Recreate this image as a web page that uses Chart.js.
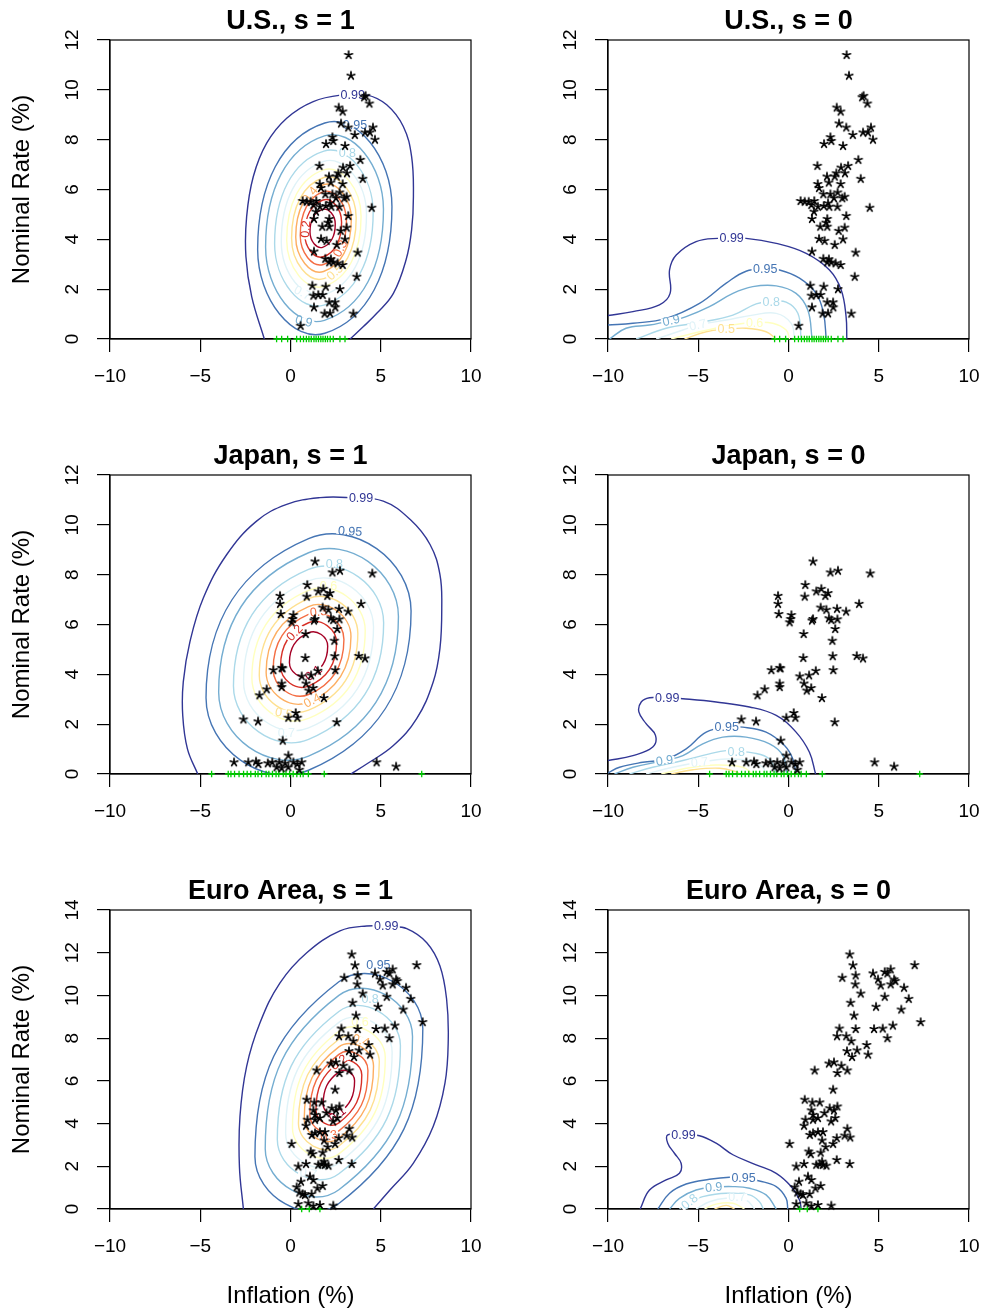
<!DOCTYPE html>
<html>
<head>
<meta charset="utf-8">
<script src="https://cdn.jsdelivr.net/npm/chart.js@4.4.1/dist/chart.umd.min.js"></script>
<style>
  html, body { margin: 0; padding: 0; background: #fff; }
  body { width: 982px; height: 1314px; position: relative; overflow: hidden; }
  canvas { position: absolute; }
</style>
</head>
<body>
<canvas id="p1"></canvas><canvas id="p2"></canvas>
<canvas id="p3"></canvas><canvas id="p4"></canvas>
<canvas id="p5"></canvas><canvas id="p6"></canvas>
<script>
// contour levels and their colours
const levelNames = ['0.99', '0.95', '0.9', '0.8', '0.7', '0.6', '0.5', '0.4', '0.3', '0.2', '0.1'];
const levelColors = ['#313695', '#4575B4', '#74ADD1', '#ABD9E9', '#E0F3F8', '#FFFFBF', '#FEE090', '#FDAE61', '#F46D43', '#D73027', '#A50026'];

const xTicks = [-10, -5, 0, 5, 10];

// ---- U.S. observations (inflation, nominal rate) ----
const usInfl = [3.22, 3.35, 4.16, 4.08, 4.37, 2.67, 2.89, 2.80, 3.20, 4.57, 4.13, 4.40, 3.56, 4.68, 2.32, 2.37, 1.97, 3.02, 3.87, 1.60,
  3.30, 2.91, 2.65, 3.13, 2.13, 2.56, 4.00, 1.62, 2.23, 2.89, 1.69, 1.93, 2.32, 2.72, 3.11, 2.98, 2.52, 0.67, 0.90, 1.12,
  1.43, 1.27, 1.63, 1.95, 2.26, 2.71, 2.19, 1.41, 1.30, 2.15, 3.20, 2.08, 1.76, 2.15, 3.11, 2.78, 1.69, 2.00, 3.02, 2.56,
  1.30, 3.72, 1.93, 2.15, 2.37, 2.61, 2.89, 2.24, 3.67, 1.21, 1.95, 2.74, 1.27, 1.54, 1.78, 2.15, 2.47, 2.48, 1.30, 1.89,
  2.19, 3.48, 0.56, 4.50];
const usRate = [11.4, 10.57, 9.76, 9.70, 9.45, 9.29, 9.13, 8.65, 8.49, 8.49, 8.29, 8.29, 8.19, 8.00, 8.10, 7.95, 7.83, 7.75, 7.19, 6.95,
  6.95, 6.88, 6.65, 6.65, 6.52, 6.52, 6.43, 6.22, 6.28, 6.22, 6.06, 5.81, 5.81, 5.88, 5.71, 5.65, 5.65, 5.54, 5.51, 5.51,
  5.54, 5.38, 5.31, 5.34, 5.31, 5.31, 5.45, 5.11, 4.82, 4.82, 4.94, 4.67, 4.51, 4.51, 4.47, 4.34, 4.02, 3.94, 4.00, 3.78,
  3.51, 3.47, 3.22, 3.08, 3.08, 3.04, 2.97, 3.20, 2.50, 2.14, 2.10, 2.00, 1.74, 1.77, 1.77, 1.47, 1.47, 1.27, 1.27, 1.02,
  1.03, 1.02, 0.53, 5.27];
const usZero = [-0.77, -0.49, -0.16, 0.34, 0.55, 0.72, 0.88, 1.02, 1.15, 1.3, 1.42, 1.55, 1.68, 1.8, 1.93, 2.05, 2.2, 2.37, 2.74, 3.02];

// ---- Japan observations ----
const jpInfl = [1.36, 2.32, 2.74, 4.53, 0.93, 1.82, 1.54, 2.19, 2.04, -0.58, -0.58, 0.90, 3.91, -0.54, 1.78, 2.10, 2.69, 3.19, 0.16, 0.12,
  0.06, 1.36, 1.30, 2.24, 2.37, 2.71, 2.59, 0.84, 2.43, 0.82, 2.45, 3.78, 4.13, -0.95, -0.49, -0.44, 0.62, 1.14, 1.51, 2.48,
  -0.49, -0.49, 0.86, 1.01, 1.26, 1.85, -1.32, -1.72, 0.29, -0.12, 0.38, -2.61, -1.80, 2.56, -0.43, -0.12, -3.13, -2.34, -1.91, -1.78,
  -1.26, -1.01, -0.62, -0.30, 0.16, 0.38, 0.62, -0.77, -0.49, -0.12, 0.49, 4.77, 5.85];
const jpRate = [8.53, 8.09, 8.16, 8.05, 7.59, 7.43, 7.33, 7.26, 7.15, 7.15, 6.83, 7.12, 6.83, 6.42, 6.68, 6.59, 6.63, 6.52, 6.38, 6.22,
  6.09, 6.22, 6.16, 6.25, 6.18, 6.21, 5.82, 5.62, 5.35, 4.66, 4.73, 4.74, 4.64, 4.17, 4.26, 4.24, 3.92, 3.96, 4.14, 4.17,
  3.63, 3.49, 3.63, 3.35, 3.45, 3.05, 3.40, 3.16, 2.45, 2.26, 2.26, 2.19, 2.11, 2.08, 1.34, 0.74, 0.47, 0.47, 0.50, 0.40,
  0.43, 0.47, 0.47, 0.43, 0.47, 0.40, 0.47, 0.27, 0.23, 0.27, 0.17, 0.47, 0.30];
const jpZero = [-4.37, -3.45, -3.3, -3.1, -2.85, -2.6, -2.4, -2.2, -1.95, -1.8, -1.6, -1.35, -1.2, -1.0, -0.8, -0.65, -0.4, -0.25, -0.05,
  0.15, 0.35, 0.55, 0.7, 0.99, 1.87, 7.27];

// ---- Euro Area observations ----
const euInfl = [3.39, 3.57, 6.99, 3.72, 2.98, 4.68, 5.33, 5.66, 5.48, 4.96, 5.11, 5.66, 5.85, 5.92, 3.70, 6.40, 4.00, 5.33, 6.66, 3.44,
  4.85, 6.25, 3.63, 7.32, 2.82, 3.72, 4.74, 5.22, 5.78, 2.69, 3.20, 3.48, 5.48, 4.33, 3.24, 3.80, 4.41, 3.52, 2.24, 2.52,
  2.93, 3.26, 2.71, 1.45, 2.47, 0.90, 1.32, 1.73, 1.27, 1.36, 1.63, 1.36, 1.99, 2.28, 2.52, 2.71, 2.59, 2.36, 0.94, 0.86,
  1.18, 1.36, 1.63, 1.91, 3.26, 3.11, 3.42, 2.67, 2.47, 0.06, 1.86, 2.06, 1.12, 1.23, 1.78, 1.54, 1.73, 1.91, 2.10, 1.86,
  0.86, 0.43, 2.67, 3.39, 1.08, 1.27, 0.58, 1.78, 1.49, 0.34, 0.49, 0.80, 1.17, 0.67, 0.43, 0.99, 1.63, 2.37, 1.27];
const euRate = [11.92, 11.41, 11.42, 10.94, 10.83, 11.03, 11.10, 11.22, 11.03, 10.75, 10.47, 10.52, 10.75, 10.67, 10.52, 10.36, 10.09, 9.94, 9.84, 9.66,
  9.47, 9.34, 9.06, 8.75, 8.45, 8.43, 8.43, 8.45, 8.59, 8.09, 8.09, 7.86, 8.00, 7.68, 7.39, 7.43, 7.23, 7.12, 6.81, 6.87,
  6.71, 6.49, 6.37, 6.49, 5.59, 5.12, 4.99, 4.99, 4.62, 4.41, 4.26, 4.18, 4.49, 4.72, 4.62, 4.80, 4.26, 4.10, 4.18, 3.90,
  3.47, 3.55, 3.60, 3.60, 3.76, 3.44, 3.35, 3.32, 3.05, 3.05, 3.21, 2.90, 2.69, 2.57, 2.64, 2.07, 2.10, 2.07, 2.03, 2.22,
  2.11, 1.99, 2.30, 2.11, 1.52, 1.36, 1.28, 1.08, 0.97, 1.02, 0.77, 0.66, 0.70, 0.70, 0.23, 0.27, 0.19, 0.16, 0.14];
const euZero = [0.62, 1.04, 1.63];

// ---- s = 1 contours: closed rings (4 points each) and the open 0.99 line ----
const usS1Rings = [
  ['0.95', [[5.62, 5.31], [1.9, 8.67], [-1.82, 3.59], [1.9, 0.23]]],
  ['0.9', [[5.15, 5.21], [1.88, 8.15], [-1.38, 3.69], [1.88, 0.75]]],
  ['0.8', [[4.58, 5.08], [1.85, 7.54], [-0.88, 3.82], [1.85, 1.36]]],
  ['0.7', [[4.21, 5.00], [1.85, 7.13], [-0.51, 3.90], [1.85, 1.77]]],
  ['0.6', [[3.91, 4.93], [1.85, 6.79], [-0.21, 3.97], [1.85, 2.11]]],
  ['0.5', [[3.64, 4.86], [1.85, 6.48], [0.06, 4.04], [1.85, 2.42]]],
  ['0.4', [[3.37, 4.81], [1.83, 6.19], [0.29, 4.09], [1.83, 2.71]]],
  ['0.3', [[3.10, 4.75], [1.82, 5.91], [0.54, 4.15], [1.82, 2.99]]],
  ['0.2', [[2.83, 4.69], [1.81, 5.58], [0.79, 4.21], [1.81, 3.30]]],
  ['0.1', [[2.48, 4.61], [1.78, 5.20], [1.08, 4.29], [1.78, 3.68]]]
];
const usS1Outer = [[-1.45, 0], [-2.15, 1.70], [-2.47, 3.31], [-2.43, 4.91], [-2.06, 6.52], [-1.32, 7.86], [-0.21, 8.86], [1.26, 9.53],
  [2.93, 9.80], [4.22, 9.80], [5.33, 9.40], [6.25, 8.53], [6.71, 7.32], [6.81, 5.72], [6.71, 4.38], [6.40, 3.17], [5.70, 1.83],
  [4.78, 1.03], [4.04, 0.50], [3.30, 0]];

const jpS1Rings = [
  ['0.95', [[6.68, 6.54], [1.0, 9.45], [-4.68, 3.06], [1.0, 0.15]]],
  ['0.9', [[5.98, 6.32], [1.0, 8.88], [-3.98, 3.28], [1.0, 0.72]]],
  ['0.8', [[5.16, 6.07], [1.0, 8.21], [-3.16, 3.53], [1.0, 1.39]]],
  ['0.7', [[4.60, 5.90], [1.0, 7.75], [-2.60, 3.70], [1.0, 1.85]]],
  ['0.6', [[4.14, 5.76], [1.0, 7.37], [-2.14, 3.84], [1.0, 2.23]]],
  ['0.5', [[3.73, 5.64], [1.0, 7.04], [-1.73, 3.96], [1.0, 2.56]]],
  ['0.4', [[3.35, 5.52], [1.0, 6.72], [-1.35, 4.08], [1.0, 2.88]]],
  ['0.3', [[2.96, 5.40], [1.0, 6.41], [-0.96, 4.20], [1.0, 3.19]]],
  ['0.2', [[2.55, 5.27], [1.0, 6.07], [-0.55, 4.33], [1.0, 3.53]]],
  ['0.1', [[2.06, 5.13], [1.0, 5.67], [-0.06, 4.47], [1.0, 3.93]]]
];
const jpS1Outer = [[-5.14, 0], [-5.71, 1.01], [-5.97, 2.35], [-5.94, 3.70], [-5.57, 5.31], [-4.83, 7.06], [-3.54, 8.80], [-1.88, 10.15],
  [-0.21, 10.82], [1.63, 11.09], [3.30, 11.09], [5.14, 10.95], [6.62, 10.22], [7.73, 9.21], [8.28, 8.0], [8.38, 6.65], [8.28, 5.04],
  [7.91, 3.70], [6.99, 2.22], [5.70, 1.14], [4.22, 0.40], [3.34, 0]];

const euS1Rings = [
  ['0.95', [[7.33, 8.45], [2.68, 10.64], [-1.97, 2.45], [2.68, 0.26]]],
  ['0.9', [[6.76, 8.08], [2.68, 10.00], [-1.40, 2.82], [2.68, 0.90]]],
  ['0.8', [[6.09, 7.65], [2.68, 9.25], [-0.73, 3.25], [2.68, 1.65]]],
  ['0.7', [[5.63, 7.35], [2.68, 8.74], [-0.27, 3.55], [2.68, 2.16]]],
  ['0.6', [[5.25, 7.11], [2.68, 8.32], [0.11, 3.79], [2.68, 2.58]]],
  ['0.5', [[4.92, 6.89], [2.68, 7.95], [0.44, 4.01], [2.68, 2.95]]],
  ['0.4', [[4.60, 6.69], [2.68, 7.59], [0.76, 4.21], [2.68, 3.31]]],
  ['0.3', [[4.29, 6.49], [2.68, 7.24], [1.07, 4.41], [2.68, 3.66]]],
  ['0.2', [[3.95, 6.27], [2.68, 6.87], [1.41, 4.63], [2.68, 4.03]]],
  ['0.1', [[3.55, 6.01], [2.68, 6.42], [1.81, 4.89], [2.68, 4.48]]]
];
const euS1Outer = [[-2.61, 0], [-2.83, 1.99], [-2.80, 4.33], [-2.43, 6.68], [-1.69, 8.72], [-0.58, 10.59], [0.90, 12.0], [2.74, 13.02],
  [4.22, 13.25], [5.51, 13.22], [6.44, 13.13], [7.55, 12.47], [8.28, 11.38], [8.65, 9.81], [8.74, 7.93], [8.56, 5.90], [7.91, 3.87],
  [6.80, 2.14], [5.51, 0.89], [4.59, 0]];

// ---- s = 0 contours: open lines ending on the zero bound ----
const usS0Lines = [
  ['0.99', [[-10.0, 0.94], [-8.62, 1.10], [-7.15, 1.37], [-6.56, 1.83], [-6.59, 2.77], [-6.22, 3.37], [-5.12, 3.91], [-3.92, 4.04],
    [-2.35, 4.04], [-0.68, 3.84], [0.98, 3.44], [2.27, 2.77], [2.92, 1.97], [3.19, 0.90], [3.23, 0]]],
  ['0.95', [[-10, 0.56], [-8.62, 0.63], [-6.78, 0.83], [-4.93, 1.43], [-3.45, 2.24], [-2.35, 2.72], [-1.29, 2.8], [-0.5, 2.77],
    [0.61, 2.44], [1.53, 1.83], [1.94, 1.03], [2.09, 0]]],
  ['0.9', [[-9.92, 0], [-9.0, 0.43], [-7.7, 0.56], [-6.5, 0.74], [-5.67, 0.90], [-4.38, 1.30], [-3.08, 1.83], [-1.98, 2.10],
    [-0.68, 2.13], [0.42, 1.83], [1.07, 1.16], [1.31, 0]]],
  ['0.8', [[-8.44, 0], [-6.78, 0.43], [-4.93, 0.66], [-3.08, 0.96], [-1.79, 1.41], [-0.96, 1.5], [-0.13, 1.48], [0.52, 1.03], [0.70, 0]]],
  ['0.7', [[-7.33, 0], [-5.85, 0.36], [-5.02, 0.56], [-3.45, 0.76], [-1.98, 0.96], [-0.68, 1.03], [0.15, 0.63], [0.33, 0]]],
  ['0.6', [[-6.5, 0], [-4.93, 0.29], [-3.08, 0.56], [-1.88, 0.66], [-0.87, 0.63], [-0.13, 0.36], [0.06, 0]]],
  ['0.5', [[-5.76, 0], [-4.56, 0.29], [-3.45, 0.39], [-2.35, 0.43], [-1.24, 0.29], [-0.68, 0]]]
];
const jpS0Lines = [
  ['0.99', [[-10, 0.54], [-8.62, 0.74], [-7.52, 1.08], [-7.37, 1.55], [-7.89, 2.02], [-8.29, 2.49], [-8.16, 2.89], [-7.70, 3.06],
    [-6.72, 3.06], [-5.85, 3.02], [-4.01, 2.89], [-2.16, 2.69], [-0.68, 2.35], [0.42, 1.68], [1.16, 0.87], [1.50, 0]]],
  ['0.95', [[-10, 0.04], [-9.36, 0.27], [-8.07, 0.47], [-6.78, 0.60], [-5.67, 1.01], [-4.56, 1.68], [-3.42, 1.88], [-2.53, 1.88],
    [-1.24, 1.68], [-0.22, 1.14], [0.24, 0.60], [0.42, 0]]],
  ['0.9', [[-9.64, 0], [-8.62, 0.27], [-6.87, 0.54], [-5.85, 0.74], [-4.75, 1.21], [-3.64, 1.48], [-2.35, 1.48], [-1.05, 1.21],
    [-0.31, 0.74], [-0.09, 0]]],
  ['0.8', [[-8.81, 0], [-7.52, 0.27], [-5.85, 0.54], [-4.38, 0.81], [-3.45, 0.94], [-2.9, 0.9], [-1.98, 0.85], [-1.05, 0.60], [-0.68, 0]]],
  ['0.7', [[-7.89, 0], [-6.41, 0.27], [-4.93, 0.47], [-3.45, 0.60], [-2.16, 0.54], [-1.42, 0.27], [-1.24, 0]]],
  ['0.6', [[-7.05, 0], [-5.67, 0.23], [-4.01, 0.36], [-2.53, 0.27], [-1.98, 0]]],
  ['0.5', [[-6.5, 0], [-5.3, 0.17], [-3.82, 0.23], [-2.9, 0.09], [-2.71, 0]]]
];
const euS0Lines = [
  ['0.99', [[-8.22, 0], [-7.70, 0.89], [-6.78, 1.36], [-6.04, 1.67], [-5.95, 2.14], [-6.32, 2.61], [-6.69, 3.08], [-6.69, 3.47],
    [-5.82, 3.47], [-4.93, 3.43], [-4.01, 3.08], [-3.08, 2.54], [-1.79, 2.07], [-0.68, 1.67], [0.15, 1.05], [0.61, 0.42], [0.70, 0]]],
  ['0.95', [[-7.24, 0], [-6.59, 0.74], [-5.67, 1.17], [-4.38, 1.39], [-3.27, 1.49], [-2.49, 1.45], [-1.61, 1.31], [-0.68, 1.05],
    [-0.13, 0.50], [-0.04, 0]]],
  ['0.9', [[-6.59, 0], [-6.04, 0.50], [-5.12, 0.89], [-4.14, 1.02], [-3.08, 1.05], [-2.16, 0.97], [-1.24, 0.66], [-0.68, 0]]],
  ['0.8', [[-6.04, 0], [-5.48, 0.34], [-4.75, 0.58], [-3.45, 0.74], [-2.16, 0.66], [-1.61, 0.34], [-1.39, 0]]],
  ['0.7', [[-5.12, 0], [-4.38, 0.34], [-3.45, 0.50], [-2.35, 0.42], [-1.88, 0]]],
  ['0.6', [[-4.65, 0], [-4.01, 0.23], [-3.08, 0.27], [-2.44, 0]]],
  ['0.5', [[-4.10, 0], [-3.45, 0.17], [-2.99, 0]]]
];

// contour labels: [level, inflation, rate, angle]
const usS1Labels = [['0.99', 3.45, 9.8, 0], ['0.95', 3.57, 8.6, 0], ['0.8', 3.15, 7.47, 0], ['0.9', 0.74, 0.71, 14],
  ['0.2', 0.84, 4.41, -85], ['0.3', 2.76, 3.63, -62], ['0.4', 1.08, 5.78, -51], ['0.5', 2.46, 2.68, -41], ['0.7', 0.67, 1.85, 28]];
const usS0Labels = [['0.99', -3.15, 4.04, 0], ['0.95', -1.29, 2.8, 0], ['0.9', -6.5, 0.74, -12], ['0.8', -0.96, 1.5, 0],
  ['0.7', -5.02, 0.56, -13], ['0.6', -1.88, 0.66, 0], ['0.5', -3.45, 0.39, 0]];
const jpS1Labels = [['0.99', 3.91, 11.07, 0], ['0.95', 3.3, 9.74, 4], ['0.8', 2.43, 8.44, 0], ['0.6', 2.1, 7.54, 0],
  ['0.3', 1.55, 6.51, -5], ['0.2', 0.23, 5.67, -47], ['0.1', 1.27, 4.05, -36], ['0.4', 1.2, 2.95, -27], ['0.5', -0.37, 2.44, 10],
  ['0.7', -0.23, 1.65, 0]];
const jpS0Labels = [['0.99', -6.72, 3.06, 0], ['0.95', -3.42, 1.88, 0], ['0.9', -6.87, 0.54, -8], ['0.8', -2.9, 0.9, 0],
  ['0.7', -4.93, 0.47, -5]];
const euS1Labels = [['0.99', 5.3, 13.23, 0], ['0.95', 4.87, 11.44, 0], ['0.8', 4.41, 9.84, 0], ['0.6', 3.85, 8.76, 0],
  ['0.4', 3.91, 7.89, 18], ['0.2', 2.68, 6.87, -35], ['0.1', 2.6, 4.43, -37], ['0.3', 2.13, 3.41, -16], ['0.7', 0.99, 1.67, 9]];
const euS0Labels = [['0.99', -5.82, 3.47, 0], ['0.95', -2.49, 1.45, 0], ['0.9', -4.14, 1.02, -5], ['0.8', -5.48, 0.34, -40],
  ['0.7', -2.85, 0.55, 0]];

const FONT = '"Liberation Sans", Arial, Helvetica, sans-serif';
Chart.defaults.font.family = FONT;

function colorOf(level) {
  return levelColors[levelNames.indexOf(level)];
}

// R's pch = "*": a small five-armed asterisk
function makeStar() {
  const c = document.createElement('canvas');
  c.width = 12; c.height = 12;
  const g = c.getContext('2d');
  g.strokeStyle = '#000';
  g.lineWidth = 1.7;
  g.lineCap = 'round';
  g.beginPath();
  for (let k = 0; k < 5; k++) {
    const a = (-90 + k * 72) * Math.PI / 180;
    g.moveTo(6, 6);
    g.lineTo(6 + 4 * Math.cos(a), 6 + 4 * Math.sin(a));
  }
  g.stroke();
  return c;
}
const starImg = makeStar();

const minus = v => (v < 0 ? '\u2212' + Math.abs(v) : String(v));
// closed ring: pad the 4 points so every visible segment has both neighbours
const hideEnds = ctx => (ctx.p0DataIndex === 0 || ctx.p1DataIndex === 6) ? 'rgba(0,0,0,0)' : undefined;

const boxPlugin = {
  id: 'box',
  beforeDatasetsDraw(chart) {
    const { ctx, chartArea: a } = chart;
    ctx.save();
    ctx.strokeStyle = '#000';
    ctx.lineWidth = 1.2;
    ctx.strokeRect(a.left, a.top, a.right - a.left, a.bottom - a.top);
    ctx.restore();
  }
};

function labelPlugin(items) {
  return {
    id: 'contourLabels',
    beforeDatasetDraw(chart, args) {
      if (chart.data.datasets[args.index].label !== 'zlb') return;
      const ctx = chart.ctx;
      const xs = chart.scales.x, ys = chart.scales.y;
      ctx.save();
      ctx.font = '12.5px ' + FONT;
      ctx.textAlign = 'center';
      ctx.textBaseline = 'middle';
      items.forEach(([lv, x, y, ang]) => {
        const w = ctx.measureText(lv).width;
        ctx.save();
        ctx.translate(xs.getPixelForValue(x), ys.getPixelForValue(y));
        ctx.rotate(ang * Math.PI / 180);
        ctx.fillStyle = '#fff';
        ctx.fillRect(-w / 2 - 1.5, -3.5, w + 3, 7);
        ctx.fillStyle = colorOf(lv);
        ctx.fillText(lv, 0, 0.5);
        ctx.restore();
      });
      ctx.restore();
    }
  };
}

function panel(id, left, top, height, cfg) {
  const cv = document.getElementById(id);
  cv.width = 484;
  cv.height = height;
  cv.style.left = left + 'px';
  cv.style.top = top + 'px';

  const datasets = [
    { label: 'obs', data: cfg.infl.map((v, i) => ({ x: v, y: cfg.rate[i] })), pointStyle: starImg, pointRadius: 5, clip: false, order: 0 },
    { label: 'zlb', data: cfg.zero.map(v => ({ x: v, y: 0 })), pointStyle: 'cross', pointRadius: 3.2,
      borderColor: '#00CD00', backgroundColor: '#00CD00', borderWidth: 1.3, clip: false, order: 1 }
  ];
  (cfg.rings || []).forEach(([lv, p]) => {
    const loop = [p[0], p[1], p[2], p[3], p[0], p[1], p[2]];
    datasets.push({ label: lv, data: loop.map(q => ({ x: q[0], y: q[1] })), showLine: true, tension: 0.55,
      borderColor: colorOf(lv), borderWidth: 1.4, pointRadius: 0, order: 2, segment: { borderColor: hideEnds } });
  });
  (cfg.lines || []).forEach(([lv, p]) => {
    datasets.push({ label: lv, data: p.map(q => ({ x: q[0], y: q[1] })), showLine: true, tension: 0.4,
      borderColor: colorOf(lv), borderWidth: 1.4, pointRadius: 0, order: 2 });
  });

  const axisGrid = { drawOnChartArea: false, drawTicks: true, tickLength: 13, color: '#000', lineWidth: 1.2 };
  const axisBorder = { display: true, color: '#000', width: 1.2 };

  new Chart(cv, {
    type: 'scatter',
    data: { datasets },
    options: {
      responsive: false,
      animation: false,
      devicePixelRatio: 1,
      events: [],
      layout: { padding: { left: 0, right: 13, top: 0, bottom: 0 } },
      elements: { line: { capBezierPoints: false } },
      plugins: {
        legend: { display: false },
        tooltip: { enabled: false },
        title: {
          display: true, text: cfg.title, fullSize: false, color: '#000',
          font: { size: 27, weight: 'bold', family: FONT }, padding: { top: 5.6, bottom: 2 }
        }
      },
      scales: {
        x: {
          type: 'linear', min: xTicks[0], max: xTicks[xTicks.length - 1],
          afterBuildTicks: s => { s.ticks = xTicks.map(v => ({ value: v })); },
          // tall line height pushes the labels down without widening the side padding
          ticks: { color: '#000', font: { size: 19, lineHeight: 2.42 }, padding: 2, maxRotation: 0, autoSkip: false, callback: minus },
          grid: axisGrid,
          border: axisBorder,
          title: { display: cfg.xTitle, text: 'Inflation (%)', color: '#000', font: { size: 24 }, padding: { top: 0, bottom: 3 } },
          afterFit: s => { s.height = height - 339; }
        },
        y: {
          type: 'linear', min: 0, max: cfg.yTicks[cfg.yTicks.length - 1],
          afterBuildTicks: s => { s.ticks = cfg.yTicks.map(v => ({ value: v })); },
          ticks: { color: '#000', font: { size: 19 }, padding: 14, minRotation: 90, maxRotation: 90,
            crossAlign: 'center', autoSkip: false, callback: minus },
          grid: axisGrid,
          border: axisBorder,
          title: { display: cfg.yTitle, text: 'Nominal Rate (%)', color: '#000', font: { size: 24 }, padding: { top: 8, bottom: 0 } },
          afterFit: s => { s.width = 110; }
        }
      }
    },
    plugins: [boxPlugin, labelPlugin(cfg.labels)]
  });
}

const yTicks12 = [0, 2, 4, 6, 8, 10, 12];
const yTicks14 = [0, 2, 4, 6, 8, 10, 12, 14];

panel('p1', 0, 0, 435, { title: 'U.S., s = 1', infl: usInfl, rate: usRate, zero: usZero, rings: usS1Rings,
  lines: [['0.99', usS1Outer]], labels: usS1Labels, yTicks: yTicks12, yTitle: true, xTitle: false });
panel('p2', 498, 0, 435, { title: 'U.S., s = 0', infl: usInfl, rate: usRate, zero: usZero, lines: usS0Lines,
  labels: usS0Labels, yTicks: yTicks12, yTitle: false, xTitle: false });
panel('p3', 0, 435, 435, { title: 'Japan, s = 1', infl: jpInfl, rate: jpRate, zero: jpZero, rings: jpS1Rings,
  lines: [['0.99', jpS1Outer]], labels: jpS1Labels, yTicks: yTicks12, yTitle: true, xTitle: false });
panel('p4', 498, 435, 435, { title: 'Japan, s = 0', infl: jpInfl, rate: jpRate, zero: jpZero, lines: jpS0Lines,
  labels: jpS0Labels, yTicks: yTicks12, yTitle: false, xTitle: false });
panel('p5', 0, 870, 444, { title: 'Euro Area, s = 1', infl: euInfl, rate: euRate, zero: euZero, rings: euS1Rings,
  lines: [['0.99', euS1Outer]], labels: euS1Labels, yTicks: yTicks14, yTitle: true, xTitle: true });
panel('p6', 498, 870, 444, { title: 'Euro Area, s = 0', infl: euInfl, rate: euRate, zero: euZero, lines: euS0Lines,
  labels: euS0Labels, yTicks: yTicks14, yTitle: false, xTitle: true });
</script>
</body>
</html>
